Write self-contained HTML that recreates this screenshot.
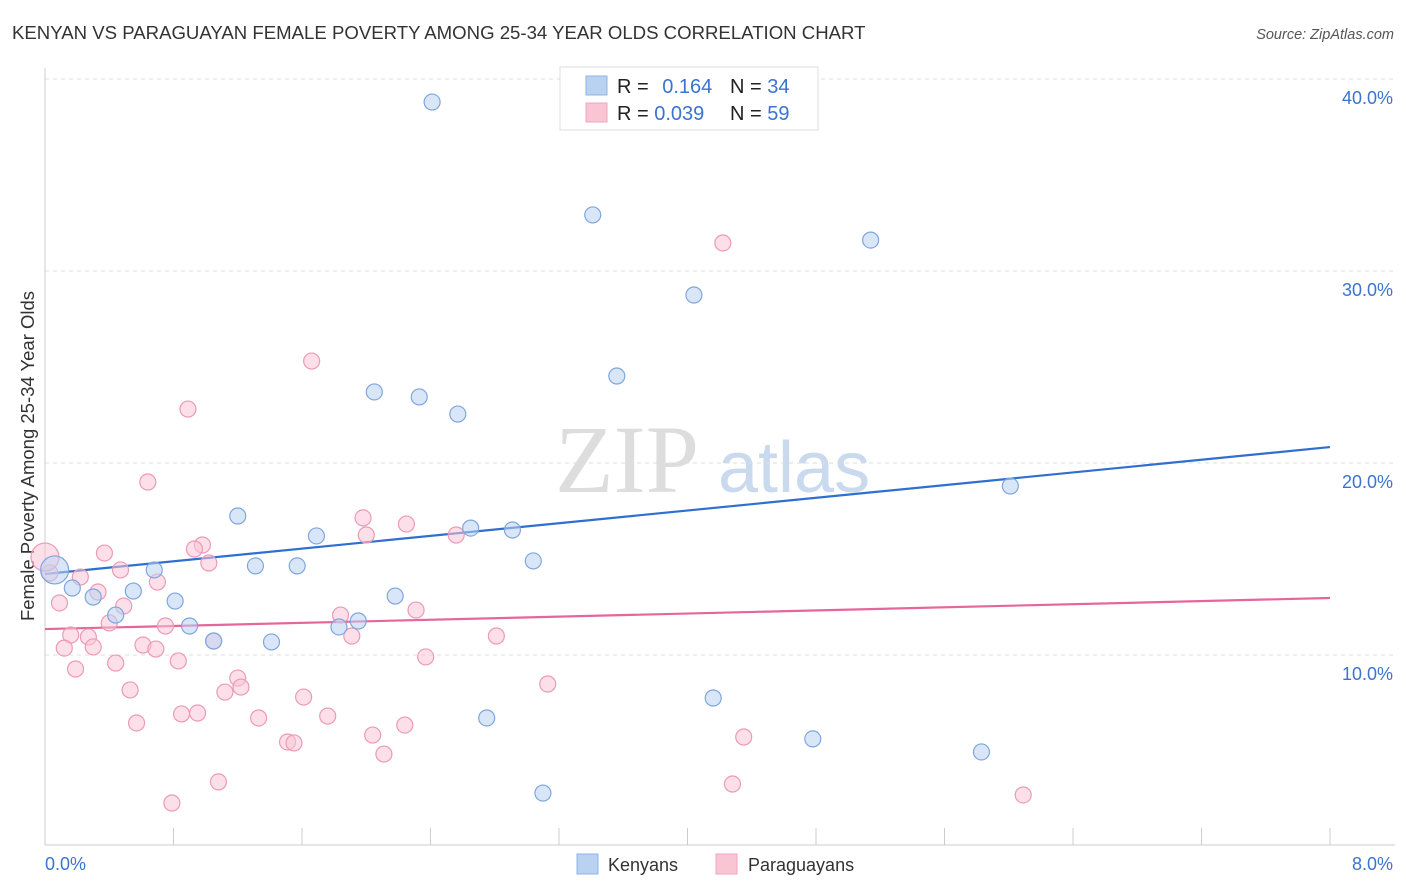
<!DOCTYPE html>
<html><head><meta charset="utf-8"><style>
body{margin:0;background:#fff;font-family:"Liberation Sans",sans-serif;}
#wrap{position:relative;width:1406px;height:892px;overflow:hidden;}
</style></head><body>
<div id="wrap">
<svg id="svg" width="1406" height="892" xmlns="http://www.w3.org/2000/svg">
<text x="12" y="39" font-size="18.6" fill="#333">KENYAN VS PARAGUAYAN FEMALE POVERTY AMONG 25-34 YEAR OLDS CORRELATION CHART</text>
<text x="1394" y="39" font-size="14.5" fill="#555" text-anchor="end" font-style="italic">Source: ZipAtlas.com</text>
<text x="34" y="456" font-size="18.5" fill="#333" text-anchor="middle" transform="rotate(-90 34 456)">Female Poverty Among 25-34 Year Olds</text>
<text x="555" y="492" font-size="96" fill="#ddd" font-family="Liberation Serif,serif">ZIP</text>
<text x="718" y="492" font-size="72" fill="#c9d9ee">atlas</text>
<g id="grid"></g><g id="axes"></g><g id="lines"></g><g id="pts"></g>
<g>
<rect x="560" y="67" width="258" height="63" fill="#fff" stroke="#ddd"/>
<rect x="586" y="76" width="21" height="19" fill="#b9d2f2" stroke="#8fb4e6"/>
<rect x="586" y="103" width="21" height="19" fill="#f9c5d5" stroke="#f0a5bd"/>
<text x="617" y="93" font-size="20" fill="#222">R = <tspan fill="#3a74d0" dx="8">0.164</tspan></text>
<text x="730" y="93" font-size="20" fill="#222">N = <tspan fill="#3a74d0">34</tspan></text>
<text x="617" y="120" font-size="20" fill="#222">R = <tspan fill="#3a74d0">0.039</tspan></text>
<text x="730" y="120" font-size="20" fill="#222">N = <tspan fill="#3a74d0">59</tspan></text>
</g>
<g>
<rect x="577" y="854" width="21" height="20" fill="#b9d2f2" stroke="#8fb4e6"/>
<text x="608" y="871" font-size="18" fill="#333">Kenyans</text>
<rect x="716" y="854" width="21" height="20" fill="#f9c5d5" stroke="#f0a5bd"/>
<text x="748" y="871" font-size="18" fill="#333">Paraguayans</text>
</g>
</svg>
</div>
<script>
const yTicks=[10,20,30,40];
const yTickLabels=["10.0%","20.0%","30.0%","40.0%"];
const xTickLabels=["0.0%","8.0%"];
const kenX=[2.41,3.41,5.14,4.04,3.56,2.05,2.33,2.57,1.20,6.01,1.69,2.65,2.91,3.04,1.31,1.57,0.68,0.06,0.17,0.30,0.55,0.81,0.44,0.90,1.05,1.41,1.83,1.95,2.18,2.75,4.16,4.78,5.83,3.10];
const kenY=[38.80,32.92,31.61,28.75,24.53,23.70,23.44,22.55,17.24,18.80,16.20,16.61,16.51,14.90,14.64,14.64,14.43,14.43,13.49,13.02,13.33,12.81,12.08,11.51,10.73,10.68,11.46,11.77,13.07,6.72,7.76,5.63,4.95,2.81];
const parX=[4.22,1.66,0.89,0.64,1.98,2.25,2.00,2.56,0.98,0.93,0.37,1.02,0.47,0.70,0.22,0.03,0.33,0.09,0.49,1.84,2.31,0.40,0.75,0.16,0.27,0.61,0.12,0.30,0.69,1.05,1.91,2.81,0.83,0.44,0.19,2.37,1.20,1.22,3.13,0.53,1.12,1.61,0.85,0.95,0.57,1.33,1.76,2.24,2.04,4.35,1.51,1.55,2.11,1.08,4.28,0.79,6.09,0.00,3.39];
const parY=[31.46,25.31,22.81,19.01,17.14,16.82,16.25,16.25,15.73,15.52,15.31,14.79,14.43,13.80,14.06,14.27,13.28,12.71,12.55,12.08,12.34,11.67,11.51,11.04,10.94,10.52,10.36,10.42,10.31,10.73,10.99,10.99,9.69,9.58,9.27,9.90,8.80,8.33,8.49,8.18,8.07,7.81,6.93,6.98,6.46,6.72,6.82,6.35,5.83,5.73,5.47,5.42,4.84,3.39,3.28,2.29,2.71,15.1,38.9];
const kenTrend=[14.22,20.83];
const parTrend=[11.35,12.97];
const NS="http://www.w3.org/2000/svg";
const sx=v=>45+v*160.625, sy=v=>847-v*19.2;
function mk(t,a,p){const e=document.createElementNS(NS,t);for(const k in a)e.setAttribute(k,a[k]);p.appendChild(e);return e;}
const grid=document.getElementById('grid'),axes=document.getElementById('axes'),lines=document.getElementById('lines'),pts=document.getElementById('pts');
yTicks.forEach((t,i)=>{
 const l=mk('line',{x1:45,x2:1395,y1:sy(t),y2:sy(t),stroke:'#ddd','stroke-dasharray':'4,4'},grid);
 
 
 const tx=mk('text',{x:1393,y:sy(t)+25,'font-size':18,fill:'#3a74d0','text-anchor':'end'},axes);
 tx.textContent=yTickLabels[i];
 
 
});
const ax=mk('line',{x1:45,x2:1395,y1:845,y2:845,stroke:'#ccc'},axes);


const ay=mk('line',{x1:45,x2:45,y1:68,y2:845,stroke:'#ccc'},axes);


for(let i=1;i<=10;i++){
 const t=mk('line',{x1:sx(i*0.8),x2:sx(i*0.8),y1:828,y2:845,stroke:'#ccc'},axes);
 
 
}
[[0,45,'start'],[8,1393,'end']].forEach((d,i)=>{
 const t=mk('text',{x:d[1],y:870,'font-size':18,fill:'#3a74d0','text-anchor':d[2]},axes);
 t.textContent=xTickLabels[i];
 
 
});
function pt(x,y,f,s,r,name){const c=mk('circle',{cx:sx(x),cy:sy(y),r:r,fill:f,'fill-opacity':0.55,stroke:s,'stroke-width':1.2},pts);
 
 }
parX.forEach((x,i)=>pt(x,parY[i],'#f9c5d5','#ec9ab5',i==57?14:8,'point-paraguayans'));
kenX.forEach((x,i)=>pt(x,kenY[i],'#b9d2f2','#7ea6de',i==17?14:8,'point-kenyans'));
const kl=mk('line',{x1:sx(0),x2:sx(8),y1:sy(kenTrend[0]),y2:sy(kenTrend[1]),stroke:'#2f6fd0','stroke-width':2.2},lines);


const pl=mk('line',{x1:sx(0),x2:sx(8),y1:sy(parTrend[0]),y2:sy(parTrend[1]),stroke:'#e5679a','stroke-width':2.2},lines);


</script>
</body></html>
